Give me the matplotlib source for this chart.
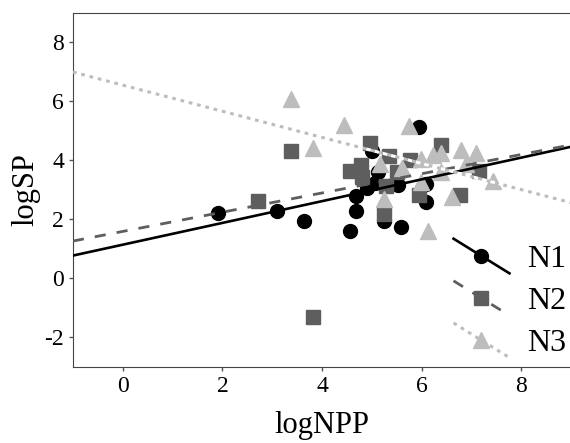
import matplotlib
matplotlib.use('Agg')
from matplotlib import pyplot as plt
from matplotlib import font_manager
from matplotlib.lines import Line2D
from matplotlib.legend_handler import HandlerLine2D
import numpy as np

# Datos.
n1_x = [1.92, 3.09, 3.63, 4.57, 4.68, 4.68, 4.91, 5.07, 5.12, 5.01, 5.24, 5.58,
        5.52, 5.95, 6.08, 6.08]
n1_y = [2.22, 2.27, 1.94, 1.60, 2.27, 2.78, 3.07, 3.24, 3.60, 4.32, 1.94, 1.74,
        3.15, 5.14, 2.58, 3.19]

n2_x = [2.72, 3.37, 3.82, 4.56, 4.78, 4.80, 4.97, 5.34, 5.28, 5.24, 5.51, 5.77,
        5.95, 6.39, 6.77, 7.16]
n2_y = [2.62, 4.32, -1.31, 3.65, 3.85, 3.45, 4.60, 4.15, 3.13, 2.17, 3.60, 4.02,
        2.82, 4.52, 2.82, 3.64]

n3_x = [3.37, 3.81, 4.44, 5.17, 5.24, 5.61, 5.75, 5.98, 5.98, 6.12, 6.23, 6.39,
        6.39, 6.61, 6.78, 6.89, 7.10, 7.44]
n3_y = [6.08, 4.43, 5.21, 3.86, 2.68, 3.75, 5.18, 4.04, 3.25, 1.61, 4.18, 4.25,
        3.60, 2.76, 4.35, 3.87, 4.25, 3.30]

# Rectas de regresion (pendiente, intercepto).
ajuste_n1 = (0.369, 1.14)
ajuste_n2 = (0.326, 1.59)
ajuste_n3 = (-0.443, 6.55)

x_recta = np.array([-1.0, 9.0])

# Busca una fuente tipo Times entre las instaladas.
nombres = sorted({f.name for f in font_manager.fontManager.ttflist})
serif = [n for n in nombres if 'Liberation Serif' in n or 'Times' in n]
plt.rcParams['font.family'] = serif + ['DejaVu Serif']
plt.rcParams['axes.unicode_minus'] = False


class HandlerDiagonal(HandlerLine2D):
    # Dibuja la muestra de la leyenda como una linea diagonal.
    def create_artists(self, legend, orig_handle, xdescent, ydescent,
                       width, height, fontsize, trans):
        x0 = -xdescent
        x1 = -xdescent + width
        y0 = -ydescent + height * 1.25
        y1 = -ydescent - height * 0.3
        linea = Line2D([x0, x1], [y0, y1])
        self.update_prop(linea, orig_handle, legend)
        linea.set_marker('None')
        linea.set_transform(trans)
        marca = Line2D([(x0 + x1) / 2], [(y0 + y1) / 2])
        self.update_prop(marca, orig_handle, legend)
        marca.set_linestyle('None')
        marca.set_transform(trans)
        return [linea, marca]


figura = plt.figure(figsize=(5.7, 4.43), dpi=100)
ax = figura.add_axes([0.128, 0.172, 0.874, 0.799])

ax.plot(n1_x, n1_y, 'o', color='black', markersize=10, zorder=2)
ax.plot(n2_x, n2_y, 's', color='#5e5e5e', markersize=10, zorder=3)
ax.plot(n3_x, n3_y, '^', color='#bdbdbd', markersize=11.5, zorder=4)

ax.plot(x_recta, ajuste_n1[0] * x_recta + ajuste_n1[1], '-', color='black',
        linewidth=1.9, zorder=5)
ax.plot(x_recta, ajuste_n2[0] * x_recta + ajuste_n2[1], color='#5e5e5e',
        linewidth=2.0, dashes=(4, 4), zorder=5)
ax.plot(x_recta, ajuste_n3[0] * x_recta + ajuste_n3[1], color='#bdbdbd',
        linewidth=2.2, dashes=(1.2, 1.6), gapcolor='white', zorder=5)

h1 = Line2D([], [], color='black', linewidth=1.9, marker='o', markersize=10)
h2 = Line2D([], [], color='#5e5e5e', linewidth=2.0, dashes=(4, 4),
            marker='s', markersize=10)
h3 = Line2D([], [], color='#bdbdbd', linewidth=2.2, dashes=(1.2, 1.6),
            marker='^', markersize=11.5)

ax.legend([h1, h2, h3], ['N1', 'N2', 'N3'], loc='lower right',
          bbox_to_anchor=(1.022, -0.02), frameon=False, fontsize=23,
          handlelength=1.75, handletextpad=0.55, labelspacing=0.4,
          borderaxespad=0.1, handler_map={Line2D: HandlerDiagonal()})

ax.set_xlim(-1, 9)
ax.set_ylim(-3, 9)
ax.set_xticks([0, 2, 4, 6, 8])
ax.set_yticks([-2, 0, 2, 4, 6, 8])
ax.tick_params(labelsize=17, length=3, color='#555555', width=1)
for spine in ax.spines.values():
    spine.set_color('#444444')

ax.set_xlabel('logNPP', fontsize=22, labelpad=10)
ax.set_ylabel('logSP', fontsize=22, labelpad=3)

figura.savefig('out.png', dpi=100)
